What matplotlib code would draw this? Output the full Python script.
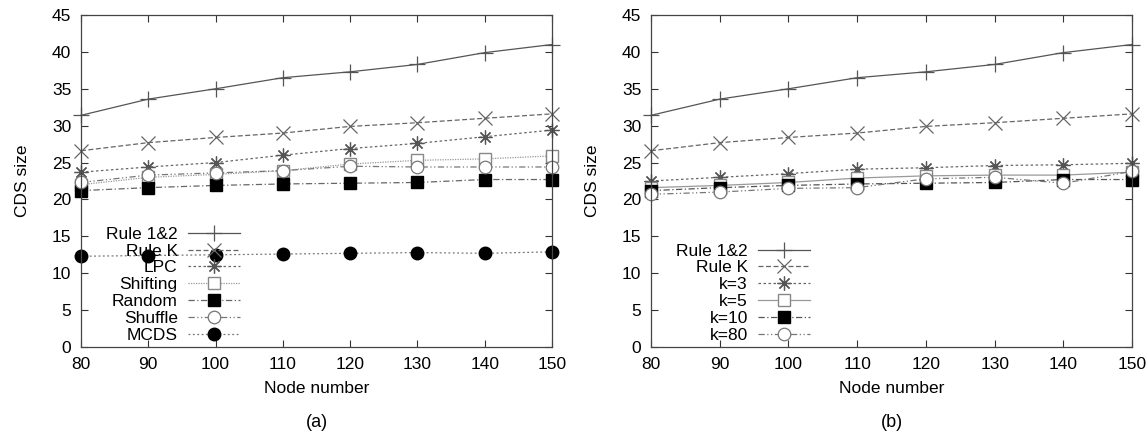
import matplotlib
matplotlib.use("Agg")
import matplotlib.pyplot as plt

plt.rcParams['font.family'] = ['Liberation Sans', 'DejaVu Sans']

nodes = [80, 90, 100, 110, 120, 130, 140, 150]

# Panel (a)
rule12 = [31.4, 33.6, 35.0, 36.5, 37.3, 38.3, 39.9, 41.0]
ruleK = [26.6, 27.7, 28.4, 29.0, 29.9, 30.4, 31.0, 31.6]
lpc = [23.7, 24.4, 25.0, 26.0, 26.9, 27.6, 28.5, 29.4]
shifting = [22.0, 23.0, 23.4, 23.9, 24.8, 25.3, 25.5, 25.9]
random_ = [21.2, 21.6, 21.9, 22.1, 22.2, 22.3, 22.7, 22.7]
shuffle = [22.3, 23.3, 23.6, 23.9, 24.5, 24.4, 24.4, 24.4]
mcds = [12.3, 12.4, 12.5, 12.6, 12.7, 12.8, 12.7, 12.9]

# Panel (b)
k3 = [22.5, 23.0, 23.5, 24.1, 24.3, 24.6, 24.7, 24.9]
k5 = [21.6, 21.9, 22.3, 22.9, 23.2, 23.3, 23.3, 23.7]
k10 = [21.2, 21.6, 21.9, 22.1, 22.2, 22.3, 22.7, 22.7]
k80 = [20.7, 21.0, 21.5, 21.6, 22.8, 23.0, 22.2, 23.8]

labels_a = ["Rule 1&2", "Rule K", "LPC", "Shifting", "Random", "Shuffle", "MCDS"]
labels_b = ["Rule 1&2", "Rule K", "k=3", "k=5", "k=10", "k=80"]
yticks = [0, 5, 10, 15, 20, 25, 30, 35, 40, 45]
xticks = [80, 90, 100, 110, 120, 130, 140, 150]

asterisk = (8, 2, 0)
styles = {
    'r12': dict(color='#555555', ls='-', marker='+', ms=11, mew=0.9, mfc='none', mec='#555555'),
    'rk': dict(color='#666666', ls=(0, (4, 2)), marker='x', ms=10, mew=0.9, mec='#666666'),
    'lpc': dict(color='#666666', ls=(0, (2, 2)), marker=asterisk, ms=10, mew=0.9, mec='#555555'),
    'shift': dict(color='#999999', ls=(0, (1, 1)), marker='s', ms=8, mfc='white', mec='#888888', mew=1.0),
    'rand': dict(color='#666666', ls=(0, (5, 2, 1, 2)), marker='s', ms=8, mfc='black', mec='black'),
    'shuf': dict(color='#777777', ls=(0, (5, 2, 1, 2, 1, 2)), marker='o', ms=9, mfc='white', mec='#777777', mew=0.9),
    'mcds': dict(color='#777777', ls=(0, (1.5, 2)), marker='o', ms=9, mfc='black', mec='black'),
    'k5': dict(color='#999999', ls='-', marker='s', ms=8, mfc='white', mec='#888888', mew=1.0),
    'k10': dict(color='#555555', ls=(0, (5, 2, 1, 2)), marker='s', ms=8, mfc='black', mec='black'),
    'k80': dict(color='#777777', ls=(0, (5, 2, 1, 2, 1, 2)), marker='o', ms=9, mfc='white', mec='#777777', mew=0.9),
}

fig = plt.figure(figsize=(11.47, 4.36), dpi=100)
axa = fig.add_axes([0.0706, 0.2041, 0.4107, 0.7615])
axb = fig.add_axes([0.5676, 0.2041, 0.4194, 0.7615])

series_a = [(rule12, 'r12'), (ruleK, 'rk'), (lpc, 'lpc'), (shifting, 'shift'),
            (random_, 'rand'), (shuffle, 'shuf'), (mcds, 'mcds')]
series_b = [(rule12, 'r12'), (ruleK, 'rk'), (k3, 'lpc'), (k5, 'k5'),
            (k10, 'k10'), (k80, 'k80')]

for ax, series, labels, tag, legx in [(axa, series_a, labels_a, '(a)', 0.338),
                                      (axb, series_b, labels_b, '(b)', 0.331)]:
    for (vals, key), lab in zip(series, labels):
        ax.plot(nodes, vals, lw=0.9, label=lab, clip_on=False, **styles[key])
    ax.set_xlim(80, 150)
    ax.set_ylim(0, 45)
    ax.set_xticks(xticks)
    ax.set_yticks(yticks)
    ax.tick_params(direction='in', length=5, width=0.8, top=True, right=True,
                   labelsize=12.5, color='#333333', pad=7)
    for sp in ax.spines.values():
        sp.set_color('#444444')
        sp.set_linewidth(0.9)
    ax.set_xlabel("Node number", fontsize=12.5, labelpad=7)
    ax.set_ylabel("CDS size", fontsize=12.5, labelpad=16)
    ax.text(0.5, -0.226, tag, transform=ax.transAxes, ha='center', va='center', fontsize=13)
    leg = ax.legend(loc='lower right', bbox_to_anchor=(legx, 0.012), markerfirst=False,
                    frameon=False, fontsize=12.5, handlelength=3.0, labelspacing=0.1,
                    handletextpad=0.6, borderaxespad=0.0, borderpad=0.0)

fig.savefig("out.png", dpi=100)
